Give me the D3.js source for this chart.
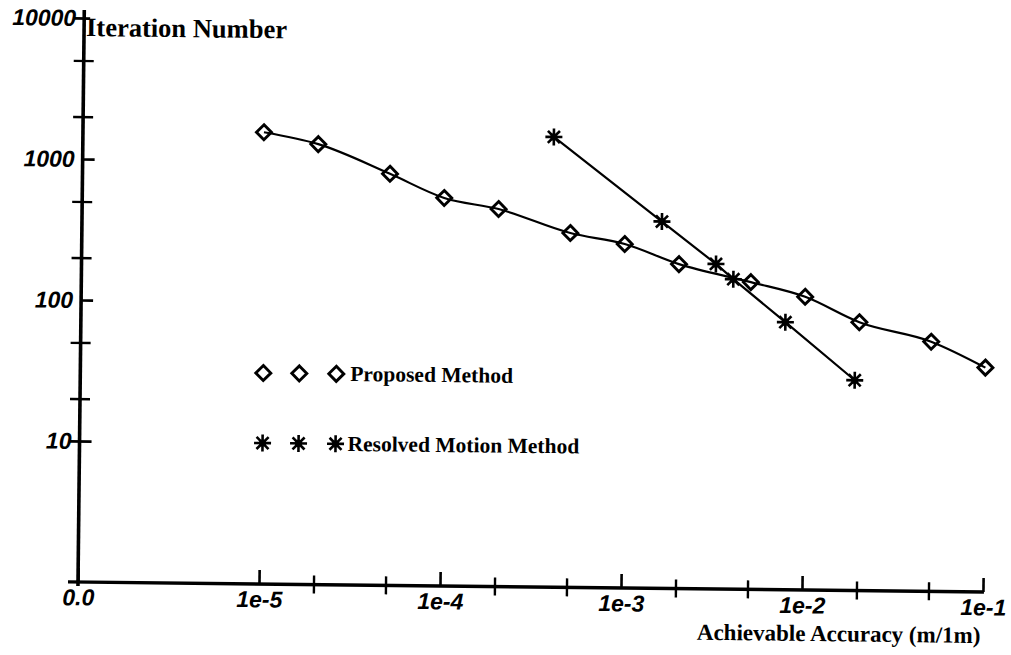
<!DOCTYPE html>
<html><head><meta charset="utf-8">
<script src="https://cdn.jsdelivr.net/npm/d3@7"></script>
<style>body{margin:0;background:#fff}</style>
</head><body><svg id="c" width="1011" height="655"></svg>
<script>
const proposedX = [1e-5, 2e-5, 5e-5, 1e-4, 2e-4, 5e-4, 1e-3, 2e-3, 5e-3, 1e-2, 2e-2, 5e-2, 1e-1];
const proposedY = [1600, 1330, 830, 565, 476, 326, 275, 200, 151, 120, 80, 59, 39];
const resolvedX = [4e-4, 1.6e-3, 3.2e-3, 4e-3, 7.8e-3, 1.9e-2];
const resolvedY = [1560, 400, 202, 158, 79, 31];
const xTickValues = [1e-6, 1e-5, 1e-4, 1e-3, 1e-2, 1e-1];
const xTickLabels = ["0.0", "1e-5", "1e-4", "1e-3", "1e-2", "1e-1"];
const xMinorTicks = [2e-5, 5e-5, 2e-4, 5e-4, 2e-3, 5e-3, 2e-2, 5e-2];
const yTickValues = [10, 100, 1000, 10000];
const yTickLabels = ["10", "100", "1000", "10000"];
const yMinorTicks = [20, 50, 200, 500, 2000, 5000];
const seriesNames = ["Proposed Method", "Resolved Motion Method"];
const yTitle = "Iteration Number";
const xTitle = "Achievable Accuracy (m/1m)";

const svg = d3.select("#c");
svg.append("rect").attr("width", 1011).attr("height", 655).attr("fill", "#fff");
const g = svg.append("g").attr("transform", "translate(78,582) rotate(0.63)");

const x = d3.scaleLog().domain([1e-6, 1e-1]).range([0, 905]);
const y = d3.scaleLog().domain([1, 1e4]).range([0, -564]);

const tickFont = sel => sel.attr("font-family", "'Liberation Sans', Arial, sans-serif")
  .attr("font-weight", "bold").attr("font-style", "italic").attr("font-size", 23).attr("fill", "#000");
const serifFont = (sel, size) => sel.attr("font-family", "'Liberation Serif', 'Times New Roman', serif")
  .attr("font-weight", "bold").attr("font-size", size).attr("fill", "#000");

// X axis (major)
const xAx = g.append("g").call(d3.axisBottom(x).tickValues(xTickValues)
  .tickFormat((d, i) => xTickLabels[i]).tickSize(-14).tickPadding(7));
xAx.select(".domain").remove();
xAx.selectAll("line").attr("stroke", "#000").attr("stroke-width", 2.6);
xAx.selectAll("text").call(tickFont);
// X minor ticks
const xMin = g.append("g").call(d3.axisBottom(x).tickValues(xMinorTicks).tickFormat(() => "").tickSize(9));
xMin.select(".domain").remove();
xMin.selectAll("line").attr("y1", -9).attr("y2", 9).attr("stroke", "#000").attr("stroke-width", 2.4);

// Y axis (major)
const yAx = g.append("g").call(d3.axisLeft(y).tickValues(yTickValues)
  .tickFormat((d, i) => yTickLabels[i]).tickSize(-12).tickPadding(8));
yAx.select(".domain").remove();
yAx.selectAll("line").attr("stroke", "#000").attr("stroke-width", 2.6)
  .attr("x1", d => (d === 10 || d === 10000) ? -10 : 0)
  .attr("x2", d => d === 10000 ? 6 : 12);
yAx.selectAll("text").call(tickFont);
// Y minor ticks
const yMin = g.append("g").call(d3.axisLeft(y).tickValues(yMinorTicks).tickFormat(() => "").tickSize(10));
yMin.select(".domain").remove();
yMin.selectAll("line").attr("x1", -10).attr("x2", 10).attr("stroke", "#000").attr("stroke-width", 2.4);

// axis lines
g.append("line").attr("x1", -10).attr("x2", x(1e-1) + 1).attr("y1", 0).attr("y2", 0)
  .attr("stroke", "#000").attr("stroke-width", 3.4);
g.append("line").attr("x1", 0).attr("x2", 0).attr("y1", 4).attr("y2", y(1e4) - 8)
  .attr("stroke", "#000").attr("stroke-width", 3.6);

// titles
g.append("text").attr("x", 2).attr("y", -546).text(yTitle).call(serifFont, 26.5);
g.append("text").attr("x", 903).attr("y", 51).attr("text-anchor", "end").text(xTitle).call(serifFont, 23);

// series
const proposed = proposedX.map((v, i) => [v, proposedY[i]]);
const resolved = resolvedX.map((v, i) => [v, resolvedY[i]]);

g.append("path").datum(proposed)
  .attr("d", d3.line().x(d => x(d[0])).y(d => y(d[1])).curve(d3.curveMonotoneX))
  .attr("fill", "none").attr("stroke", "#000").attr("stroke-width", 2.2);
g.append("path").datum(resolved)
  .attr("d", d3.line().x(d => x(d[0])).y(d => y(d[1])))
  .attr("fill", "none").attr("stroke", "#000").attr("stroke-width", 2.2);

const diamondPath = "M0,-7.5L7.5,0L0,7.5L-7.5,0Z";
function drawDiamond(sel) {
  sel.append("path").attr("d", diamondPath).attr("fill", "none")
    .attr("stroke", "#000").attr("stroke-width", 2.9).attr("stroke-linejoin", "miter");
}
function drawStar(sel) {
  const r = 8.5;
  [0, 45, 90, 135].forEach(a => {
    const rad = a * Math.PI / 180;
    sel.append("line").attr("x1", -r * Math.cos(rad)).attr("y1", -r * Math.sin(rad))
      .attr("x2", r * Math.cos(rad)).attr("y2", r * Math.sin(rad))
      .attr("stroke", "#000").attr("stroke-width", 2.6);
  });
  sel.append("circle").attr("r", 3.6).attr("fill", "#000");
}

g.selectAll("g.pm").data(proposed).join("g").attr("class", "pm")
  .attr("transform", d => `translate(${x(d[0])},${y(d[1])})`).each(function () { drawDiamond(d3.select(this)); });
g.selectAll("g.rm").data(resolved).join("g").attr("class", "rm")
  .attr("transform", d => `translate(${x(d[0])},${y(d[1])})`).each(function () { drawStar(d3.select(this)); });

// legend
const legendRows = [
  { name: seriesNames[0], y: -211, draw: drawDiamond, tx: 270 },
  { name: seriesNames[1], y: -141, draw: drawStar, tx: 268 }
];
const legendXs = [183, 219, 256];
legendRows.forEach(row => {
  legendXs.forEach(lx => {
    const m = g.append("g").attr("transform", `translate(${lx},${row.y})`);
    row.draw(m);
  });
  g.append("text").attr("x", row.tx).attr("y", row.y + 7).text(row.name).call(serifFont, 21.5);
});
</script>
</body></html>
